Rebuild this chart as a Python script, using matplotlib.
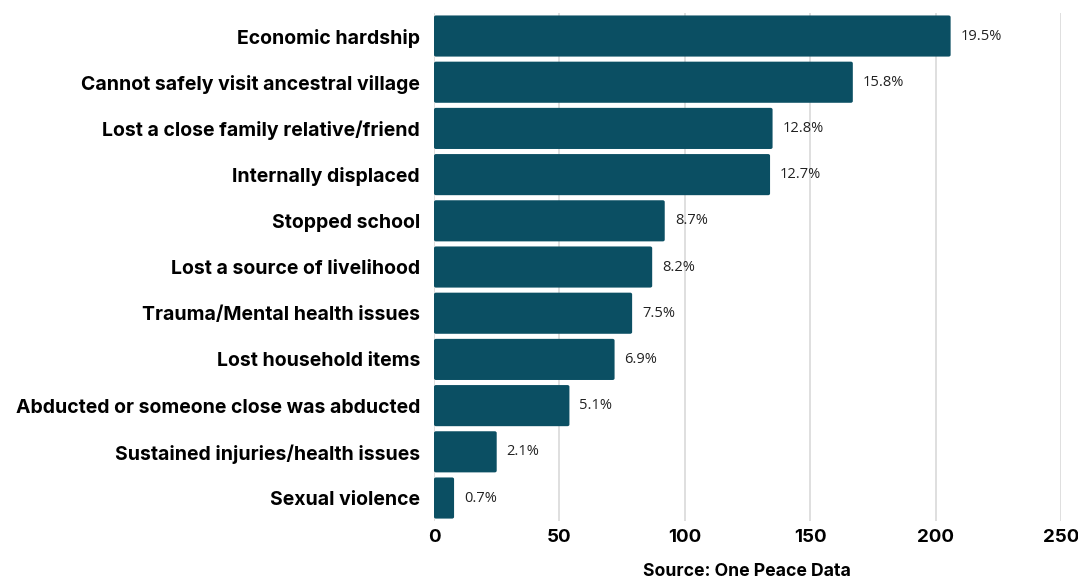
import matplotlib.pyplot as plt
from matplotlib.patches import FancyBboxPatch

categories = [
    "Economic hardship",
    "Cannot safely visit ancestral village",
    "Lost a close family relative/friend",
    "Internally displaced",
    "Stopped school",
    "Lost a source of livelihood",
    "Trauma/Mental health issues",
    "Lost household items",
    "Abducted or someone close was abducted",
    "Sustained injuries/health issues",
    "Sexual violence",
]
counts = [206, 167, 135, 134, 92, 87, 79, 72, 54, 25, 8]
pct_labels = ["19.5%", "15.8%", "12.8%", "12.7%", "8.7%", "8.2%",
              "7.5%", "6.9%", "5.1%", "2.1%", "0.7%"]
xticks = [0, 50, 100, 150, 200, 250]

bar_color = "#0b4f63"
lab_font = "Inter"

fig = plt.figure(figsize=(10.78, 5.82), dpi=100)
ax = fig.add_axes([0.4026, 0.1046, 0.5816, 0.8732])

ypos = list(range(len(categories)))
h = 0.89
for y, v in zip(ypos, counts):
    # slightly rounded bars like the original
    p = FancyBboxPatch((0, y - h / 2), v, h,
                       boxstyle="round,pad=0,rounding_size=0.8",
                       mutation_aspect=0.045,
                       facecolor=bar_color, edgecolor="none", zorder=3)
    ax.add_patch(p)

for y, v, lab in zip(ypos, counts, pct_labels):
    ax.text(v + 4, y, lab, va="center", ha="left", fontsize=10.5,
            family="Open Sans", color="#222222")

ax.set_xlim(0, 250)
ax.set_ylim(len(categories) - 0.5, -0.5)
ax.set_xticks(xticks)
ax.set_xticklabels([str(t) for t in xticks], fontsize=13.5,
                   fontweight="bold", family=lab_font)
ax.set_yticks(ypos)
ax.set_yticklabels(categories, fontsize=14, fontweight="bold",
                   family=lab_font)
ax.tick_params(axis="both", length=0)
ax.tick_params(axis="y", pad=10)
ax.tick_params(axis="x", pad=6)
ax.grid(axis="x", color="#d9d9d9", linewidth=1.2, zorder=0)
for s in ax.spines.values():
    s.set_visible(False)

fig.text(0.693, 0.003, "Source: One Peace Data", ha="center", va="bottom",
         fontsize=12.7, fontweight="bold", family=lab_font)

fig.savefig("out.png", dpi=100)
